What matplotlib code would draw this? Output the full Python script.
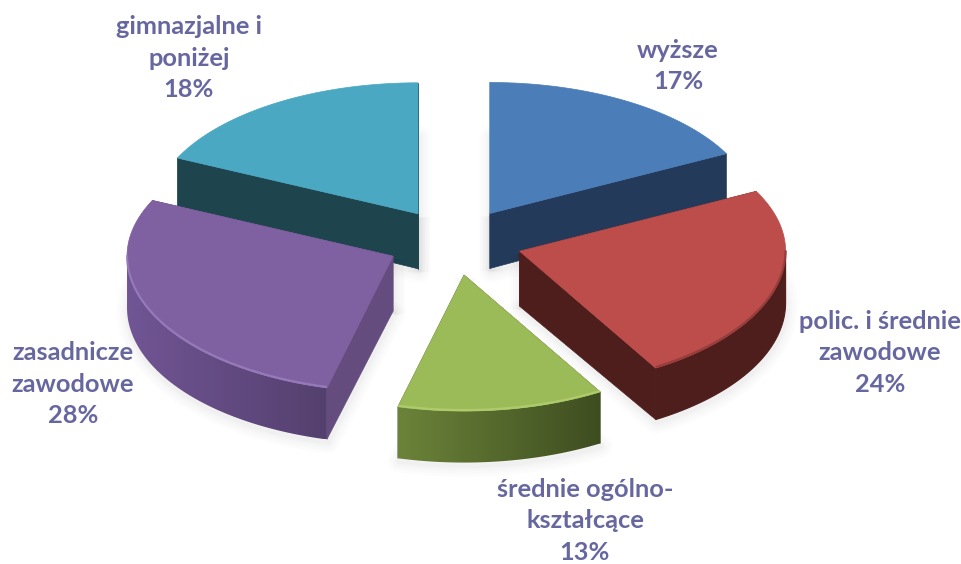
import numpy as np
import matplotlib
matplotlib.use("Agg")
import matplotlib.pyplot as plt
from matplotlib.colors import to_rgb
from matplotlib.patches import Polygon

categories = ["wyższe", "polic. i średnie\nzawodowe", "średnie ogólno-\nkształcące",
              "zasadnicze\nzawodowe", "gimnazjalne i\nponiżej"]
shares = [17.45, 24, 12.55, 28, 18]
share_labels = ["17%", "24%", "13%", "28%", "18%"]

# styles, one per slice
top_colors = ["#4b7db8", "#bd4d4a", "#9bbb59", "#7f60a0", "#4aa8c3"]
cut_colors = ["#243a5a", "#4e1e1c", "#3f4e20", "#644c7e", "#1e444e"]
wall_left = ["#243a5a", "#4e1e1c", "#6b8339", "#715595", "#1e444e"]
wall_right = ["#243a5a", "#4e1e1c", "#3e4d20", "#54406e", "#1e444e"]
edge_colors = [None, "#8e3a38", "#b4d070", "#9a80c0", None]
label_pos = [(678, 66), (880, 353), (585, 521), (73, 384), (189, 58)]

# pie geometry in image pixels, the near half is a little taller (perspective)
cx, cy = 454.4, 242
rx, ry_back, ry_front = 266, 131, 136
depth_apex, depth_rim = 55, 51.5
explode = 0.255

plt.rcParams["font.family"] = ["Lato", "DejaVu Sans"]

fig = plt.figure(figsize=(9.62, 5.64), dpi=100)
ax = fig.add_axes([0, 0, 1, 1])
ax.set_xlim(0, 962)
ax.set_ylim(564, 0)
ax.axis("off")


def rim(x0, y0, a, b):
    # points of the outer arc, angles clockwise from the top
    t = np.radians(np.linspace(a, b, 120))
    c = np.cos(t)
    return x0 + rx * np.sin(t), y0 - np.where(c > 0, ry_back, ry_front) * c


def draw_slice(i, a, b):
    mid = np.radians((a + b) / 2)
    x0 = cx + explode * rx * np.sin(mid)
    y0 = cy - explode * ry_back * np.cos(mid)
    xs, ys = rim(x0, y0, a, b)
    z = 10 + 2 * draw_order.index(i)

    # soft shadow around the lower outline of the slice
    top = np.column_stack([np.r_[x0, xs], np.r_[y0, ys]])
    low = np.column_stack([np.r_[x0, xs], np.r_[y0 + depth_apex, ys + depth_rim]])
    for lw in [16, 12, 8, 5, 3]:
        for pts in [low, np.vstack([top[:1], low[:1]])]:
            ax.add_patch(Polygon(pts + [1, 3], closed=True, fc="none", ec="black",
                                 lw=lw, alpha=0.011, zorder=z, joinstyle="round"))

    # cut faces
    for k in [0, -1]:
        face = [(x0, y0), (xs[k], ys[k]), (xs[k], ys[k] + depth_rim), (x0, y0 + depth_apex)]
        ax.add_patch(Polygon(face, closed=True, fc=cut_colors[i], ec=cut_colors[i],
                             lw=0.5, zorder=z + 0.1))

    # outer wall, only the part that faces the viewer
    a2, b2 = max(a, 90), min(b, 270)
    if a2 < b2:
        wx, wy = rim(x0, y0, a2, b2)
        wall = np.vstack([np.column_stack([wx, wy]),
                          np.column_stack([wx[::-1], wy[::-1] + depth_rim])])
        if wall_left[i] == wall_right[i]:
            ax.add_patch(Polygon(wall, closed=True, fc=wall_left[i], ec=wall_left[i],
                                 lw=0.8, zorder=z + 0.2))
        else:
            c0, c1 = np.array(to_rgb(wall_left[i])), np.array(to_rgb(wall_right[i]))
            ramp = np.linspace(0, 1, 200)[None, :, None]
            im = ax.imshow(c0 + (c1 - c0) * ramp,
                           extent=[wx.min(), wx.max(), wy.max() + depth_rim, wy.min()],
                           aspect="auto", zorder=z + 0.2, interpolation="bilinear")
            im.set_clip_path(Polygon(wall, closed=True, transform=ax.transData))

    # top surface
    ax.add_patch(Polygon(top, closed=True, fc=top_colors[i], ec=top_colors[i],
                         lw=0.5, zorder=z + 1))
    if edge_colors[i] and a2 < b2:
        wx, wy = rim(x0, y0, a2, b2)
        ax.plot(wx, wy - 1, color=edge_colors[i], lw=1.6, alpha=0.8, zorder=z + 1,
                solid_capstyle="butt")


ends = np.cumsum(shares) * 3.6
starts = np.r_[0, ends[:-1]]
draw_order = [0, 4, 1, 3, 2]  # back to front

for i in draw_order:
    draw_slice(i, starts[i], ends[i])

ax.set_xlim(0, 962)
ax.set_ylim(564, 0)

for i in range(len(shares)):
    ax.text(label_pos[i][0], label_pos[i][1], categories[i] + "\n" + share_labels[i],
            ha="center", va="center", fontsize=18.3, fontweight="bold", color="#6767a0",
            linespacing=1.45, zorder=30)

fig.savefig("out.png", dpi=100)
